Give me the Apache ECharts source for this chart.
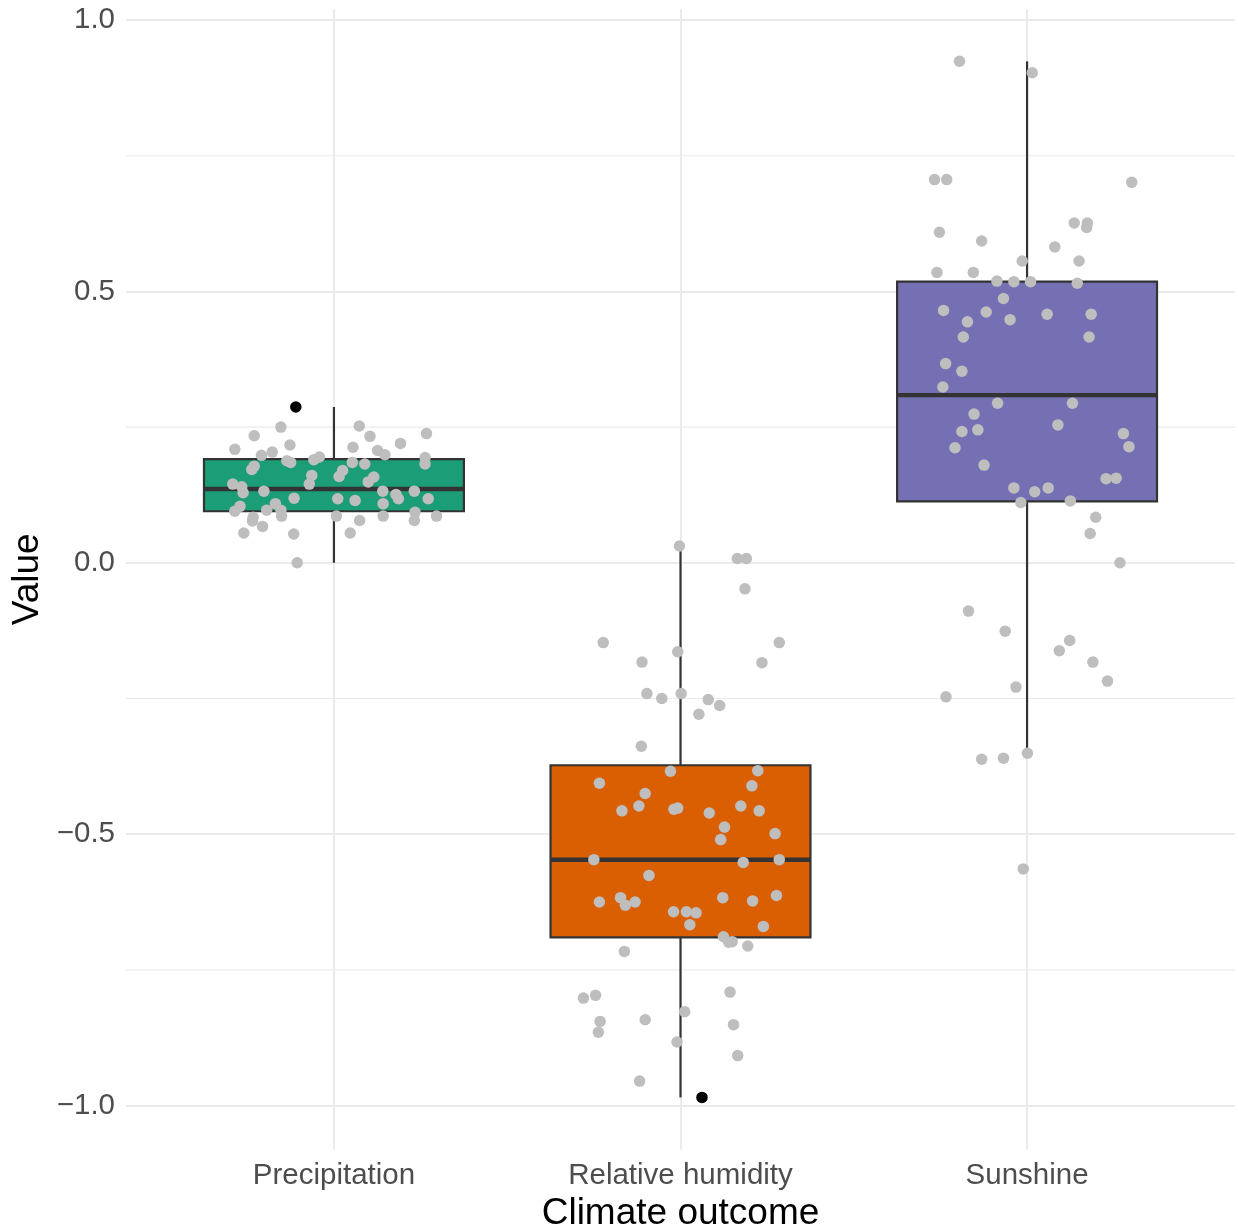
<!DOCTYPE html>
<html>
<head>
<meta charset="utf-8">
<script src="https://cdn.jsdelivr.net/npm/echarts@6/dist/echarts.min.js"></script>
<style>html,body{margin:0;padding:0;background:#fff}#chart{width:1238px;height:1232px}</style>
</head>
<body>
<div id="chart"></div>
<script>
// ---- data ----
const categories = ['Precipitation', 'Relative humidity', 'Sunshine'];
const boxLow    = [0.000, -0.985, -0.351];
const boxQ1     = [0.095, -0.690,  0.113];
const boxMedian = [0.136, -0.547,  0.309];
const boxQ3     = [0.191, -0.373,  0.518];
const boxHigh   = [0.287,  0.030,  0.924];
const boxColors = ['#1B9E77', '#D95F02', '#7570B3'];

const yTicks = [-1, -0.5, 0, 0.5, 1];
const yTickLabels = ['\u22121.0', '\u22120.5', '0.0', '0.5', '1.0'];
const yMinorTicks = [-0.75, -0.25, 0.25, 0.75];

// jittered points: horizontal offset from the category centre, and value
const precipJitter = [-0.286,-0.230,-0.153,-0.127,-0.178,-0.209,-0.230,-0.237,-0.136,-0.125,-0.058,-0.042,-0.064,-0.071,-0.292,-0.266,-0.262,-0.202,-0.115,-0.169,-0.194,-0.271,-0.286,-0.233,-0.235,-0.153,-0.151,-0.206,-0.260,-0.116,-0.106,0.073,0.104,0.055,0.126,0.147,0.192,0.267,0.263,0.263,0.053,0.089,0.025,0.015,0.115,0.099,0.141,0.179,0.186,0.232,0.272,0.011,0.061,0.142,0.234,0.232,0.296,0.142,0.007,0.074,0.047];
const precipValues = [0.209,0.234,0.250,0.217,0.204,0.198,0.178,0.172,0.188,0.185,0.190,0.195,0.161,0.145,0.145,0.140,0.129,0.132,0.119,0.109,0.097,0.104,0.095,0.084,0.077,0.097,0.086,0.067,0.055,0.053,0.000,0.252,0.233,0.213,0.207,0.199,0.220,0.238,0.194,0.182,0.185,0.182,0.170,0.159,0.158,0.149,0.132,0.126,0.118,0.132,0.118,0.118,0.115,0.109,0.093,0.078,0.086,0.086,0.086,0.078,0.055];

const humidJitter = [-0.003,0.164,0.190,0.186,-0.223,0.285,-0.111,-0.008,0.235,-0.097,-0.054,0.002,0.080,0.113,0.053,-0.113,-0.029,0.223,-0.234,0.206,-0.102,-0.120,-0.169,-0.019,-0.008,0.083,0.174,0.227,0.127,0.116,0.273,-0.250,0.181,0.285,-0.091,-0.234,-0.173,-0.159,-0.131,-0.020,0.017,0.045,0.027,0.122,0.208,0.277,0.239,0.124,0.149,0.139,0.194,-0.162,-0.280,-0.245,0.143,0.012,-0.232,-0.237,-0.102,0.153,-0.010,0.165,-0.118];
const humidValues = [0.031,0.008,0.008,-0.048,-0.147,-0.147,-0.183,-0.164,-0.184,-0.241,-0.250,-0.241,-0.252,-0.263,-0.279,-0.338,-0.384,-0.383,-0.406,-0.411,-0.425,-0.448,-0.457,-0.454,-0.452,-0.461,-0.448,-0.457,-0.487,-0.510,-0.499,-0.547,-0.552,-0.547,-0.576,-0.625,-0.617,-0.631,-0.625,-0.643,-0.643,-0.645,-0.667,-0.617,-0.623,-0.613,-0.670,-0.689,-0.698,-0.699,-0.706,-0.716,-0.802,-0.797,-0.791,-0.827,-0.845,-0.865,-0.842,-0.851,-0.883,-0.908,-0.955];

const sunJitter = [-0.195,0.015,-0.267,-0.232,0.302,-0.253,-0.131,0.136,0.174,0.172,0.080,-0.014,0.150,-0.260,-0.155,-0.087,-0.038,0.010,0.145,-0.068,-0.241,-0.118,-0.049,0.058,0.185,-0.172,-0.184,0.179,-0.235,-0.188,-0.243,-0.085,0.131,-0.153,-0.188,-0.142,0.089,-0.208,0.278,0.294,-0.124,0.228,0.257,-0.038,0.022,0.061,-0.018,0.125,0.198,0.182,0.268,-0.169,-0.063,0.123,0.093,0.190,0.232,-0.032,-0.234,0.001,-0.131,-0.068,-0.011];
const sunValues = [0.924,0.903,0.706,0.706,0.701,0.609,0.593,0.626,0.626,0.618,0.582,0.556,0.556,0.535,0.535,0.519,0.518,0.518,0.515,0.487,0.465,0.462,0.448,0.458,0.458,0.444,0.416,0.416,0.367,0.353,0.324,0.294,0.294,0.274,0.242,0.245,0.254,0.212,0.238,0.214,0.180,0.155,0.156,0.138,0.131,0.138,0.111,0.114,0.084,0.054,0.000,-0.089,-0.126,-0.143,-0.162,-0.183,-0.218,-0.229,-0.247,-0.351,-0.362,-0.360,-0.564];

// highlighted (black) points
const blackCategory = [0, 1];
const blackJitter = [-0.110, 0.062];
const blackValues = [0.287, -0.985];

// ---- build ----
const FONT = 'Liberation Sans, Arial, sans-serif';
const yMin = -1.081, yMax = 1.02;

function pts(catIdx, jit, vals) {
  return vals.map((v, k) => [catIdx + 1 + jit[k], v]);
}
const grayPoints = [].concat(
  pts(0, precipJitter, precipValues),
  pts(1, humidJitter, humidValues),
  pts(2, sunJitter, sunValues)
);
const blackPoints = blackValues.map((v, k) => [blackCategory[k] + 1 + blackJitter[k], v]);
const boxData = categories.map((c, i) => [i + 1, boxLow[i], boxQ1[i], boxMedian[i], boxQ3[i], boxHigh[i]]);

const chart = echarts.init(document.getElementById('chart'), null, {renderer: 'canvas'});
chart.setOption({
  backgroundColor: '#ffffff',
  animation: false,
  grid: {left: 126, right: 3, top: 9.2, bottom: 82.5, containLabel: false, outerBoundsMode: 'none'},
  xAxis: {
    type: 'value', min: 0.4, max: 3.6, minInterval: 1, maxInterval: 1, splitNumber: 3,
    axisLine: {show: false}, axisTick: {show: false},
    splitLine: {show: true, showMinLine: false, showMaxLine: false, lineStyle: {color: '#EBEBEB', width: 2}},
    axisLabel: {
      showMinLabel: false, showMaxLabel: false,
      formatter: function (v) {
        const r = Math.round(v);
        return Math.abs(v - r) < 1e-6 && r >= 1 && r <= categories.length ? categories[r - 1] : '';
      },
      color: '#4D4D4D', fontSize: 29.5, fontFamily: FONT, margin: 11
    },
    name: 'Climate outcome', nameLocation: 'middle', nameGap: 44,
    nameTextStyle: {fontSize: 37, color: '#000000', fontFamily: FONT}
  },
  yAxis: {
    type: 'value', min: yMin, max: yMax, minInterval: 0.5, maxInterval: 0.5,
    axisLine: {show: false}, axisTick: {show: false},
    splitLine: {show: true, showMinLine: false, showMaxLine: false, lineStyle: {color: '#EBEBEB', width: 2}},
    axisLabel: {
      showMinLabel: false, showMaxLabel: false,
      formatter: function (v) {
        const k = yTicks.findIndex(t => Math.abs(t - v) < 1e-6);
        return k >= 0 ? yTickLabels[k] : '';
      },
      color: '#4D4D4D', fontSize: 29.5, fontFamily: FONT, margin: 11
    },
    name: 'Value', nameLocation: 'middle', nameGap: 78, nameRotate: 90,
    nameTextStyle: {fontSize: 37, color: '#000000', fontFamily: FONT}
  },
  series: [
    {
      type: 'custom', name: 'minorGrid', z: 1, silent: true,
      data: yMinorTicks.map(v => [1, v]),
      encode: {x: 0, y: 1},
      renderItem: function (params, api) {
        const cs = params.coordSys;
        const y = api.coord([1, api.value(1)])[1];
        return {type: 'line', shape: {x1: cs.x, y1: y, x2: cs.x + cs.width, y2: y},
          style: {stroke: '#EBEBEB', lineWidth: 1.1}};
      }
    },
    {
      type: 'custom', name: 'box', z: 2, silent: true,
      data: boxData,
      encode: {x: 0, y: [1, 2, 3, 4, 5]},
      renderItem: function (params, api) {
        const x = api.value(0);
        const lo = api.coord([x, api.value(1)]);
        const q1 = api.coord([x, api.value(2)]);
        const md = api.coord([x, api.value(3)]);
        const q3 = api.coord([x, api.value(4)]);
        const hi = api.coord([x, api.value(5)]);
        const w = api.size([0.75, 0])[0];
        const stroke = '#333333';
        return {type: 'group', children: [
          {type: 'line', shape: {x1: lo[0], y1: lo[1], x2: q1[0], y2: q1[1]}, style: {stroke: stroke, lineWidth: 2.2}},
          {type: 'line', shape: {x1: q3[0], y1: q3[1], x2: hi[0], y2: hi[1]}, style: {stroke: stroke, lineWidth: 2.2}},
          {type: 'rect', shape: {x: q3[0] - w / 2, y: q3[1], width: w, height: q1[1] - q3[1]},
            style: {fill: boxColors[params.dataIndex], stroke: stroke, lineWidth: 2.2}},
          {type: 'line', shape: {x1: md[0] - w / 2, y1: md[1], x2: md[0] + w / 2, y2: md[1]}, style: {stroke: stroke, lineWidth: 4.4}}
        ]};
      }
    },
    {
      type: 'scatter', name: 'points', z: 3, silent: true,
      symbol: 'circle', symbolSize: 11.5,
      itemStyle: {color: '#BEBEBE', opacity: 1},
      data: grayPoints
    },
    {
      type: 'scatter', name: 'highlight', z: 4, silent: true,
      symbol: 'circle', symbolSize: 11.5,
      itemStyle: {color: '#000000', opacity: 1},
      data: blackPoints
    }
  ]
});
</script>
</body>
</html>
